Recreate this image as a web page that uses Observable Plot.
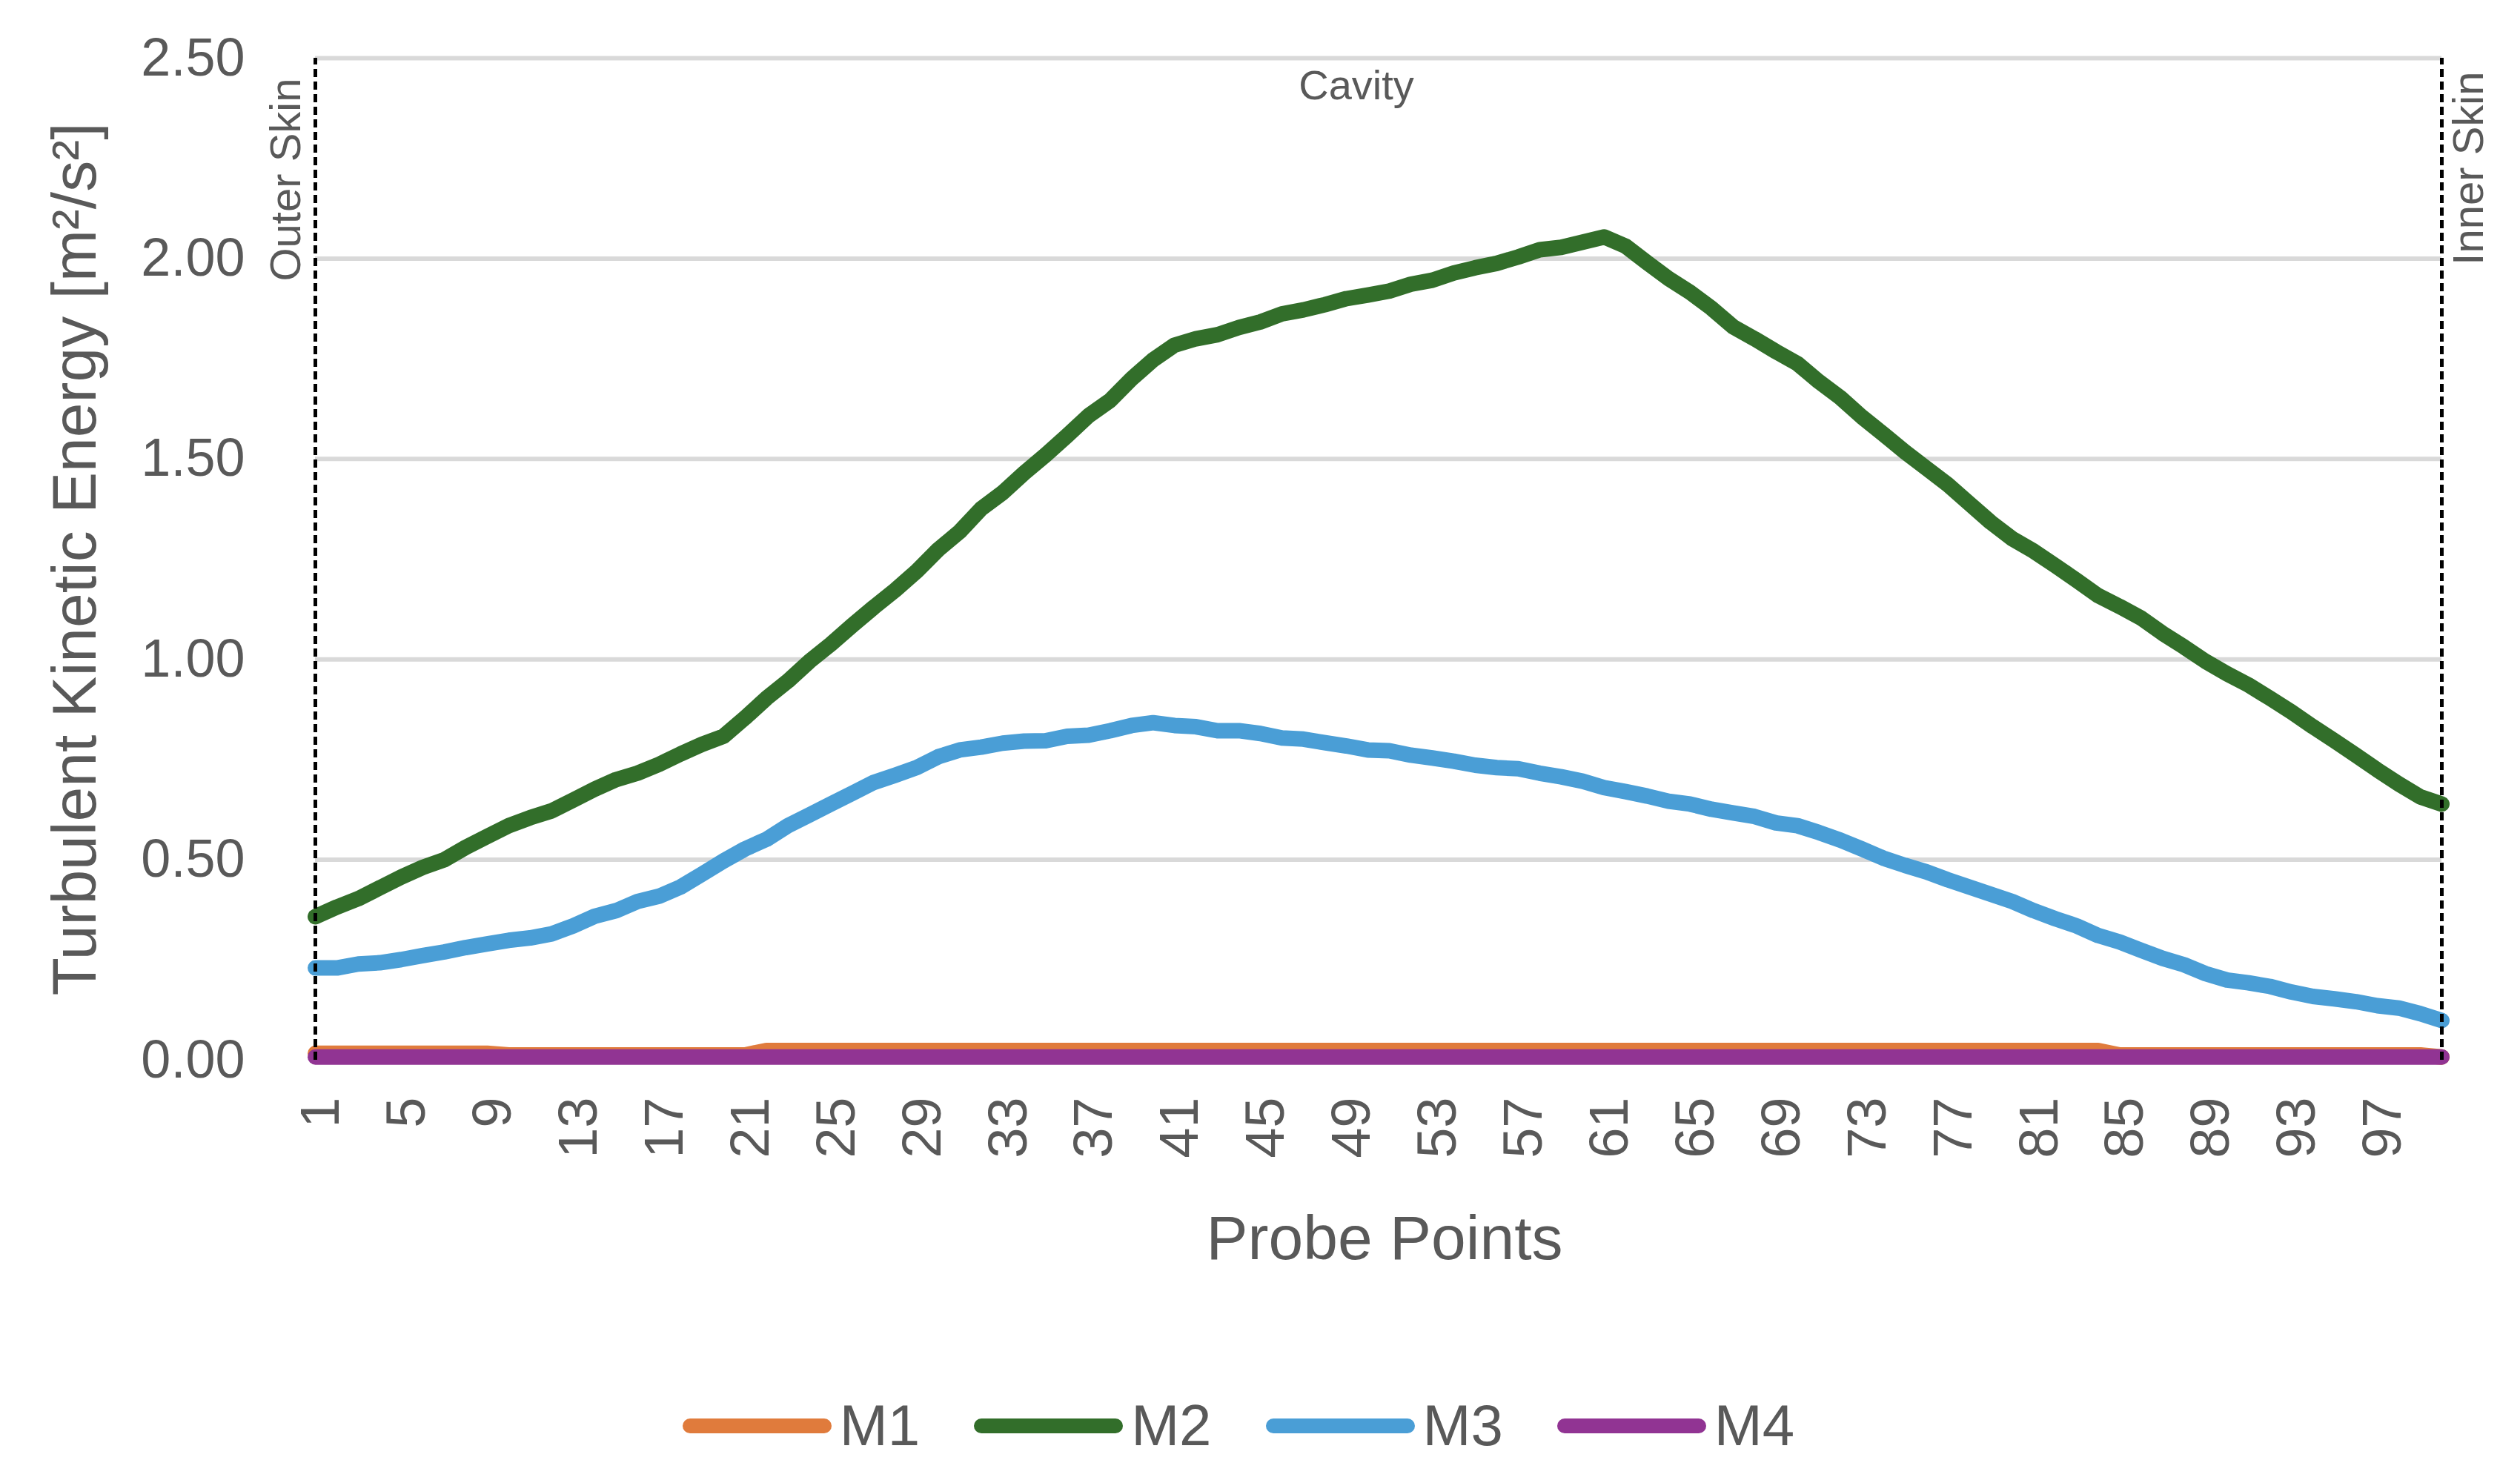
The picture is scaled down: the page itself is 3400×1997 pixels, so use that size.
<!DOCTYPE html>
<html>
<head>
<meta charset="utf-8">
<script src="https://cdn.jsdelivr.net/npm/d3@7"></script>
<script src="https://cdn.jsdelivr.net/npm/@observablehq/plot@0.6"></script>
<style>
  html, body { margin: 0; padding: 0; background: #ffffff; }
  #wrap { width: 3400px; height: 1997px; position: relative; overflow: hidden; background: #fff; }
  #legend { height: 147px; display: flex; justify-content: center; align-items: center;
            font-family: "Liberation Sans", Arial, sans-serif; font-size: 78px; color: #595959;
            transform: translateX(-29px); }
  .item { display: flex; align-items: center; margin-right: 73px; }
  .item:last-child { margin-right: 0; }
  .sw { width: 201px; height: 20px; border-radius: 10px; margin-right: 11px; }
</style>
</head>
<body>
<div id="wrap"><div id="chart"></div><div id="legend"></div></div>
<script>
// ---------- data ----------
const seriesNames = ["M1", "M2", "M3", "M4"];
const seriesColors = ["#E07B3C", "#326E2A", "#4A9ED6", "#913493"];

const M1 = [
  0.017, 0.017, 0.017, 0.017, 0.017, 0.017, 0.017, 0.017, 0.017, 0.013,
  0.013, 0.013, 0.013, 0.013, 0.013, 0.013, 0.013, 0.013, 0.013, 0.013,
  0.013, 0.024, 0.024, 0.024, 0.024, 0.024, 0.024, 0.024, 0.024, 0.024,
  0.024, 0.024, 0.024, 0.024, 0.024, 0.024, 0.024, 0.024, 0.024, 0.024,
  0.024, 0.024, 0.024, 0.024, 0.024, 0.024, 0.024, 0.024, 0.024, 0.024,
  0.024, 0.024, 0.024, 0.024, 0.024, 0.024, 0.024, 0.024, 0.024, 0.024,
  0.024, 0.024, 0.024, 0.024, 0.024, 0.024, 0.024, 0.024, 0.024, 0.024,
  0.024, 0.024, 0.024, 0.024, 0.024, 0.024, 0.024, 0.024, 0.024, 0.024,
  0.024, 0.024, 0.024, 0.024, 0.013, 0.013, 0.013, 0.013, 0.013, 0.013,
  0.013, 0.013, 0.013, 0.013, 0.013, 0.013, 0.013, 0.013, 0.013, 0.008
];

const M2 = [
  0.358, 0.382, 0.403, 0.430, 0.457, 0.481, 0.500, 0.531, 0.558, 0.585,
  0.605, 0.622, 0.649, 0.676, 0.700, 0.716, 0.738, 0.764, 0.788, 0.808,
  0.854, 0.903, 0.946, 0.995, 1.038, 1.085, 1.130, 1.173, 1.220, 1.274,
  1.319, 1.376, 1.416, 1.465, 1.510, 1.558, 1.608, 1.646, 1.700, 1.747,
  1.784, 1.800, 1.810, 1.828, 1.842, 1.862, 1.872, 1.885, 1.900, 1.909,
  1.919, 1.936, 1.946, 1.964, 1.977, 1.988, 2.004, 2.022, 2.028, 2.041,
  2.054, 2.031, 1.990, 1.950, 1.916, 1.876, 1.830, 1.800, 1.768, 1.738,
  1.693, 1.653, 1.605, 1.562, 1.518, 1.477, 1.436, 1.389, 1.342, 1.301,
  1.270, 1.234, 1.197, 1.159, 1.132, 1.103, 1.065, 1.031, 0.995, 0.964,
  0.936, 0.903, 0.869, 0.832, 0.797, 0.761, 0.724, 0.689, 0.657, 0.639
];

const M3 = [
  0.230, 0.230, 0.240, 0.243, 0.251, 0.261, 0.270, 0.281, 0.290, 0.299,
  0.305, 0.315, 0.335, 0.359, 0.373, 0.396, 0.409, 0.432, 0.464, 0.497,
  0.527, 0.551, 0.585, 0.612, 0.639, 0.666, 0.693, 0.711, 0.730, 0.757,
  0.774, 0.781, 0.791, 0.796, 0.797, 0.808, 0.811, 0.822, 0.835, 0.842,
  0.835, 0.832, 0.822, 0.822, 0.815, 0.804, 0.801, 0.792, 0.784, 0.774,
  0.772, 0.761, 0.754, 0.746, 0.736, 0.730, 0.727, 0.716, 0.707, 0.696,
  0.680, 0.670, 0.659, 0.646, 0.639, 0.626, 0.617, 0.608, 0.592, 0.585,
  0.568, 0.549, 0.527, 0.504, 0.486, 0.470, 0.450, 0.432, 0.414, 0.396,
  0.373, 0.353, 0.335, 0.311, 0.295, 0.274, 0.254, 0.238, 0.216, 0.200,
  0.193, 0.184, 0.170, 0.159, 0.153, 0.146, 0.136, 0.130, 0.116, 0.099
];

const M4 = [
  0.008, 0.008, 0.008, 0.008, 0.008, 0.008, 0.008, 0.008, 0.008, 0.008,
  0.008, 0.008, 0.008, 0.008, 0.008, 0.008, 0.008, 0.008, 0.008, 0.008,
  0.008, 0.008, 0.008, 0.008, 0.008, 0.008, 0.008, 0.008, 0.008, 0.008,
  0.008, 0.008, 0.008, 0.008, 0.008, 0.008, 0.008, 0.008, 0.008, 0.008,
  0.008, 0.008, 0.008, 0.008, 0.008, 0.008, 0.008, 0.008, 0.008, 0.008,
  0.008, 0.008, 0.008, 0.008, 0.008, 0.008, 0.008, 0.008, 0.008, 0.008,
  0.008, 0.008, 0.008, 0.008, 0.008, 0.008, 0.008, 0.008, 0.008, 0.008,
  0.008, 0.008, 0.008, 0.008, 0.008, 0.008, 0.008, 0.008, 0.008, 0.008,
  0.008, 0.008, 0.008, 0.008, 0.008, 0.008, 0.008, 0.008, 0.008, 0.008,
  0.008, 0.008, 0.008, 0.008, 0.008, 0.008, 0.008, 0.008, 0.008, 0.008
];

const xTickLabels = [1, 5, 9, 13, 17, 21, 25, 29, 33, 37, 41, 45, 49, 53, 57, 61, 65, 69, 73, 77, 81, 85, 89, 93, 97];
const yTicks = [0, 0.5, 1.0, 1.5, 2.0, 2.5];
const boundaryLabels = ["Outer Skin", "Cavity", "Inner Skin"];
const yTitle = "Turbulent Kinetic Energy [m\u00B2/s\u00B2]";
const xTitle = "Probe Points";

// ---------- build table ----------
const probes = M2.map((_, i) => i + 1);
const seriesValues = [M1, M2, M3, M4];
const rows = [];
seriesNames.forEach((name, s) => {
  seriesValues[s].forEach((v, i) => rows.push({series: name, probe: probes[i], value: v}));
});
const edges = [probes[0], probes[probes.length - 1]];

const gray = "#595959";
const font = "'Liberation Sans', Arial, sans-serif";

const chart = Plot.plot({
  width: 3400,
  height: 1850,
  marginLeft: 425,
  marginRight: 106,
  marginTop: 78,
  marginBottom: 420,
  style: {fontFamily: font, background: "#ffffff", overflow: "visible"},
  x: {domain: edges},
  y: {domain: [yTicks[0], yTicks[yTicks.length - 1]]},
  color: {domain: seriesNames, range: seriesColors},
  marks: [
    Plot.ruleY(yTicks, {stroke: "#d9d9d9", strokeWidth: 6}),
    Plot.line(rows, {x: "probe", y: "value", z: "series", stroke: "series",
      strokeWidth: 21, strokeLinejoin: "round", strokeLinecap: "round", curve: "linear"}),
    Plot.ruleX(edges, {y1: yTicks[0], y2: yTicks[yTicks.length - 1], stroke: "#000000",
      strokeWidth: 5, strokeDasharray: "11,6"}),
    Plot.axisY(yTicks, {tickSize: 0, tickPadding: 95, tickFormat: d3.format(".2f"),
      fontSize: 72, fill: gray, label: null}),
    Plot.axisX(xTickLabels, {tickSize: 0, tickPadding: 50, tickRotate: -90, dx: 8,
      fontSize: 74, fill: gray, label: null}),
    // y title
    Plot.text([yTitle], {text: d => d, frameAnchor: "left", rotate: -90, dx: -323,
      fontSize: 84, fill: gray, textAnchor: "middle", lineAnchor: "middle"}),
    // x title
    Plot.text([xTitle], {text: d => d, frameAnchor: "bottom", dx: 8, dy: 242,
      fontSize: 84, fill: gray, lineAnchor: "middle"}),
    // annotations
    Plot.text([boundaryLabels[0]], {text: d => d, frameAnchor: "top-left", rotate: -90,
      textAnchor: "end", lineAnchor: "middle", dx: -39, dy: 27, fontSize: 58, fill: gray}),
    Plot.text([boundaryLabels[1]], {text: d => d, frameAnchor: "top", dx: -30, dy: 38,
      lineAnchor: "middle", fontSize: 56, fill: gray}),
    Plot.text([boundaryLabels[2]], {text: d => d, frameAnchor: "top-right", rotate: -90,
      textAnchor: "end", lineAnchor: "middle", dx: 37, dy: 18, fontSize: 58, fill: gray})
  ]
});
document.getElementById("chart").appendChild(chart);

// ---------- legend ----------
const legend = document.getElementById("legend");
seriesNames.forEach((name, i) => {
  const item = document.createElement("div");
  item.className = "item";
  const sw = document.createElement("div");
  sw.className = "sw";
  sw.style.background = seriesColors[i];
  const label = document.createElement("span");
  label.textContent = name;
  item.appendChild(sw);
  item.appendChild(label);
  legend.appendChild(item);
});
</script>
</body>
</html>
